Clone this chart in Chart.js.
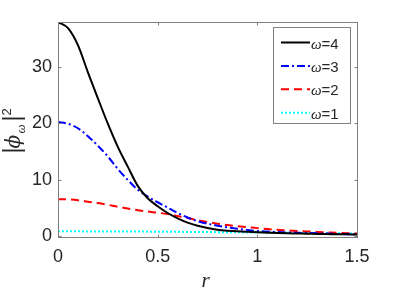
<!DOCTYPE html>
<html><head><meta charset="utf-8">
<script src="https://cdn.jsdelivr.net/npm/chart.js@4.4.0/dist/chart.umd.min.js"></script>
<style>html,body{margin:0;padding:0;background:#fff;} canvas{display:block;}</style>
</head><body>
<canvas id="c" width="395" height="296"></canvas>
<script>
const rValues = [0,0.05,0.1,0.15,0.2,0.25,0.3,0.35,0.4,0.45,0.5,0.55,0.6,0.65,0.7,0.75,0.8,0.85,0.9,0.95,1.0,1.05,1.1,1.15,1.2,1.25,1.3,1.35,1.4,1.45,1.5];
const omega4 = [37.9,36.8,33.8,29.0,24.4,19.9,15.8,12.3,8.9,6.7,5.3,4.1,3.15,2.4,1.85,1.45,1.15,0.97,0.85,0.76,0.68,0.62,0.56,0.51,0.47,0.43,0.40,0.37,0.34,0.32,0.30];
const omega3 = [20.2,19.9,19.1,17.7,16.0,14.1,11.9,9.95,8.2,7.0,6.0,5.05,4.1,3.3,2.65,2.2,1.85,1.55,1.3,1.1,0.92,0.82,0.73,0.65,0.60,0.55,0.50,0.45,0.40,0.35,0.30];
const omega2 = [6.55,6.5,6.35,6.1,5.85,5.55,5.2,4.9,4.6,4.35,4.15,3.9,3.55,3.2,2.85,2.5,2.2,1.97,1.77,1.6,1.42,1.25,1.12,1.03,0.93,0.84,0.75,0.67,0.59,0.52,0.46];
const omega1 = [0.85,0.85,0.85,0.84,0.84,0.83,0.83,0.82,0.81,0.80,0.78,0.77,0.76,0.75,0.74,0.72,0.71,0.69,0.68,0.66,0.65,0.63,0.61,0.60,0.58,0.56,0.55,0.53,0.52,0.50,0.48];
const seriesLabels = ['4','3','2','1'];
const xTicks = [0,0.5,1,1.5];
const yTicks = [0,10,20,30];

const TXT = '#262626';
const AXC = '#808080';

function mk(vals, label, color, dash){
  return {label: label, data: rValues.map((r,i)=>({x:r, y:vals[i]})), borderColor: color, backgroundColor: color,
    borderWidth: 2, borderDash: dash, pointRadius: 0, fill: false, cubicInterpolationMode: 'monotone'};
}

const boxPlugin = {
  id: 'matlabBox',
  afterDatasetsDraw(chart){
    const ctx = chart.ctx, a = chart.chartArea;
    const xs = chart.scales.x, ys = chart.scales.y;
    ctx.save();
    ctx.strokeStyle = AXC; ctx.lineWidth = 1; ctx.setLineDash([]);
    const L = Math.round(a.left)+0.5, R = Math.round(a.right)+0.5, T = Math.round(a.top)+0.5, B = Math.round(a.bottom)+0.5;
    ctx.strokeRect(L, T, R-L, B-T);
    const tl = 3;
    ctx.beginPath();
    xTicks.forEach(v=>{ const p = Math.round(xs.getPixelForValue(v))+0.5; ctx.moveTo(p,B); ctx.lineTo(p,B-tl); ctx.moveTo(p,T); ctx.lineTo(p,T+tl); });
    yTicks.forEach(v=>{ const p = Math.round(ys.getPixelForValue(v))+0.5; ctx.moveTo(L,p); ctx.lineTo(L+tl,p); ctx.moveTo(R,p); ctx.lineTo(R-tl,p); });
    ctx.stroke();
    ctx.restore();
  },
  afterDraw(chart){
    const ctx = chart.ctx, a = chart.chartArea;
    ctx.save();
    // legend
    const bw = 77, bh = 96;
    const bx = Math.round(a.right - 7 - bw) + 0.5, by = Math.round(a.top + 5) + 0.5;
    ctx.fillStyle = '#fff'; ctx.fillRect(bx, by, bw, bh);
    ctx.strokeStyle = AXC; ctx.lineWidth = 1; ctx.setLineDash([]);
    ctx.strokeRect(bx, by, bw, bh);
    chart.data.datasets.forEach((ds, i)=>{
      const yy = by + 15 + i*23.4;
      ctx.save();
      ctx.strokeStyle = ds.borderColor; ctx.lineWidth = ds.borderWidth; ctx.setLineDash(ds.borderDash || []);
      ctx.beginPath(); ctx.moveTo(bx+7.5, yy); ctx.lineTo(bx+36.5, yy); ctx.stroke();
      ctx.restore();
      ctx.fillStyle = TXT; ctx.textBaseline = 'alphabetic'; ctx.textAlign = 'left';
      ctx.font = "italic 15px 'Liberation Serif', 'DejaVu Serif', serif";
      const tx = bx + 37.5, ty = yy + 6;
      ctx.fillText('ω', tx, ty);
      const w = ctx.measureText('ω').width;
      ctx.font = "15px 'Liberation Sans', Arial, sans-serif";
      ctx.fillText('=' + ds.label, tx + w, ty);
    });
    // x axis title
    ctx.fillStyle = TXT; ctx.textAlign = 'center'; ctx.textBaseline = 'alphabetic';
    ctx.font = "italic 21px 'Liberation Serif', 'DejaVu Serif', serif";
    ctx.fillText('r', (a.left + a.right)/2 - 2, 287);
    // y axis title
    const cy = (a.top + a.bottom)/2 + 22;
    ctx.translate(0, cy);
    ctx.rotate(-Math.PI/2);
    ctx.textAlign = 'left';
    ctx.font = "23px 'Liberation Sans', Arial, sans-serif";
    ctx.fillText('|', -2, 20);
    ctx.font = "italic 20px 'DejaVu Serif', 'Liberation Serif', serif";
    ctx.fillText('ϕ', 3, 20);
    ctx.font = "italic 13px 'Liberation Serif', 'DejaVu Serif', serif";
    ctx.fillText('ω', 18, 25);
    ctx.font = "23px 'Liberation Sans', Arial, sans-serif";
    ctx.fillText('|', 30, 20);
    ctx.font = "13px 'Liberation Sans', Arial, sans-serif";
    ctx.fillText('2', 36, 11);
    ctx.restore();
  }
};

new Chart(document.getElementById('c'), {
  type: 'line',
  data: { datasets: [
    mk(omega4, seriesLabels[0], '#000000', []),
    mk(omega3, seriesLabels[1], '#0000ff', [8,3,2,3]),
    mk(omega2, seriesLabels[2], '#ff0000', [8,5]),
    mk(omega1, seriesLabels[3], '#00ffff', [2,2])
  ]},
  options: {
    responsive: false, devicePixelRatio: 1, animation: false,
    layout: { padding: { left: 0, right: 38, top: 22, bottom: 0 } },
    plugins: { legend: { display: false }, tooltip: { enabled: false }, title: { display: false } },
    scales: {
      x: { type: 'linear', min: 0, max: 1.5,
        grid: { display: false, drawTicks: false }, border: { display: false },
        afterBuildTicks: s => { s.ticks = xTicks.map(v=>({value:v})); },
        afterFit: s => { s.height = 59; },
        ticks: { padding: 9, color: TXT, maxRotation: 0, autoSkip: false,
          font: { family: "'Liberation Sans', Arial, sans-serif", size: 18 },
          callback: v => String(v) } },
      y: { type: 'linear', min: -0.15, max: 37.9,
        grid: { display: false, drawTicks: false }, border: { display: false },
        afterBuildTicks: s => { s.ticks = yTicks.map(v=>({value:v})); },
        afterFit: s => { s.width = 58; },
        ticks: { padding: 6, color: TXT, autoSkip: false,
          font: { family: "'Liberation Sans', Arial, sans-serif", size: 18 },
          callback: v => String(v) } }
    }
  },
  plugins: [boxPlugin]
});
</script>
</body></html>
